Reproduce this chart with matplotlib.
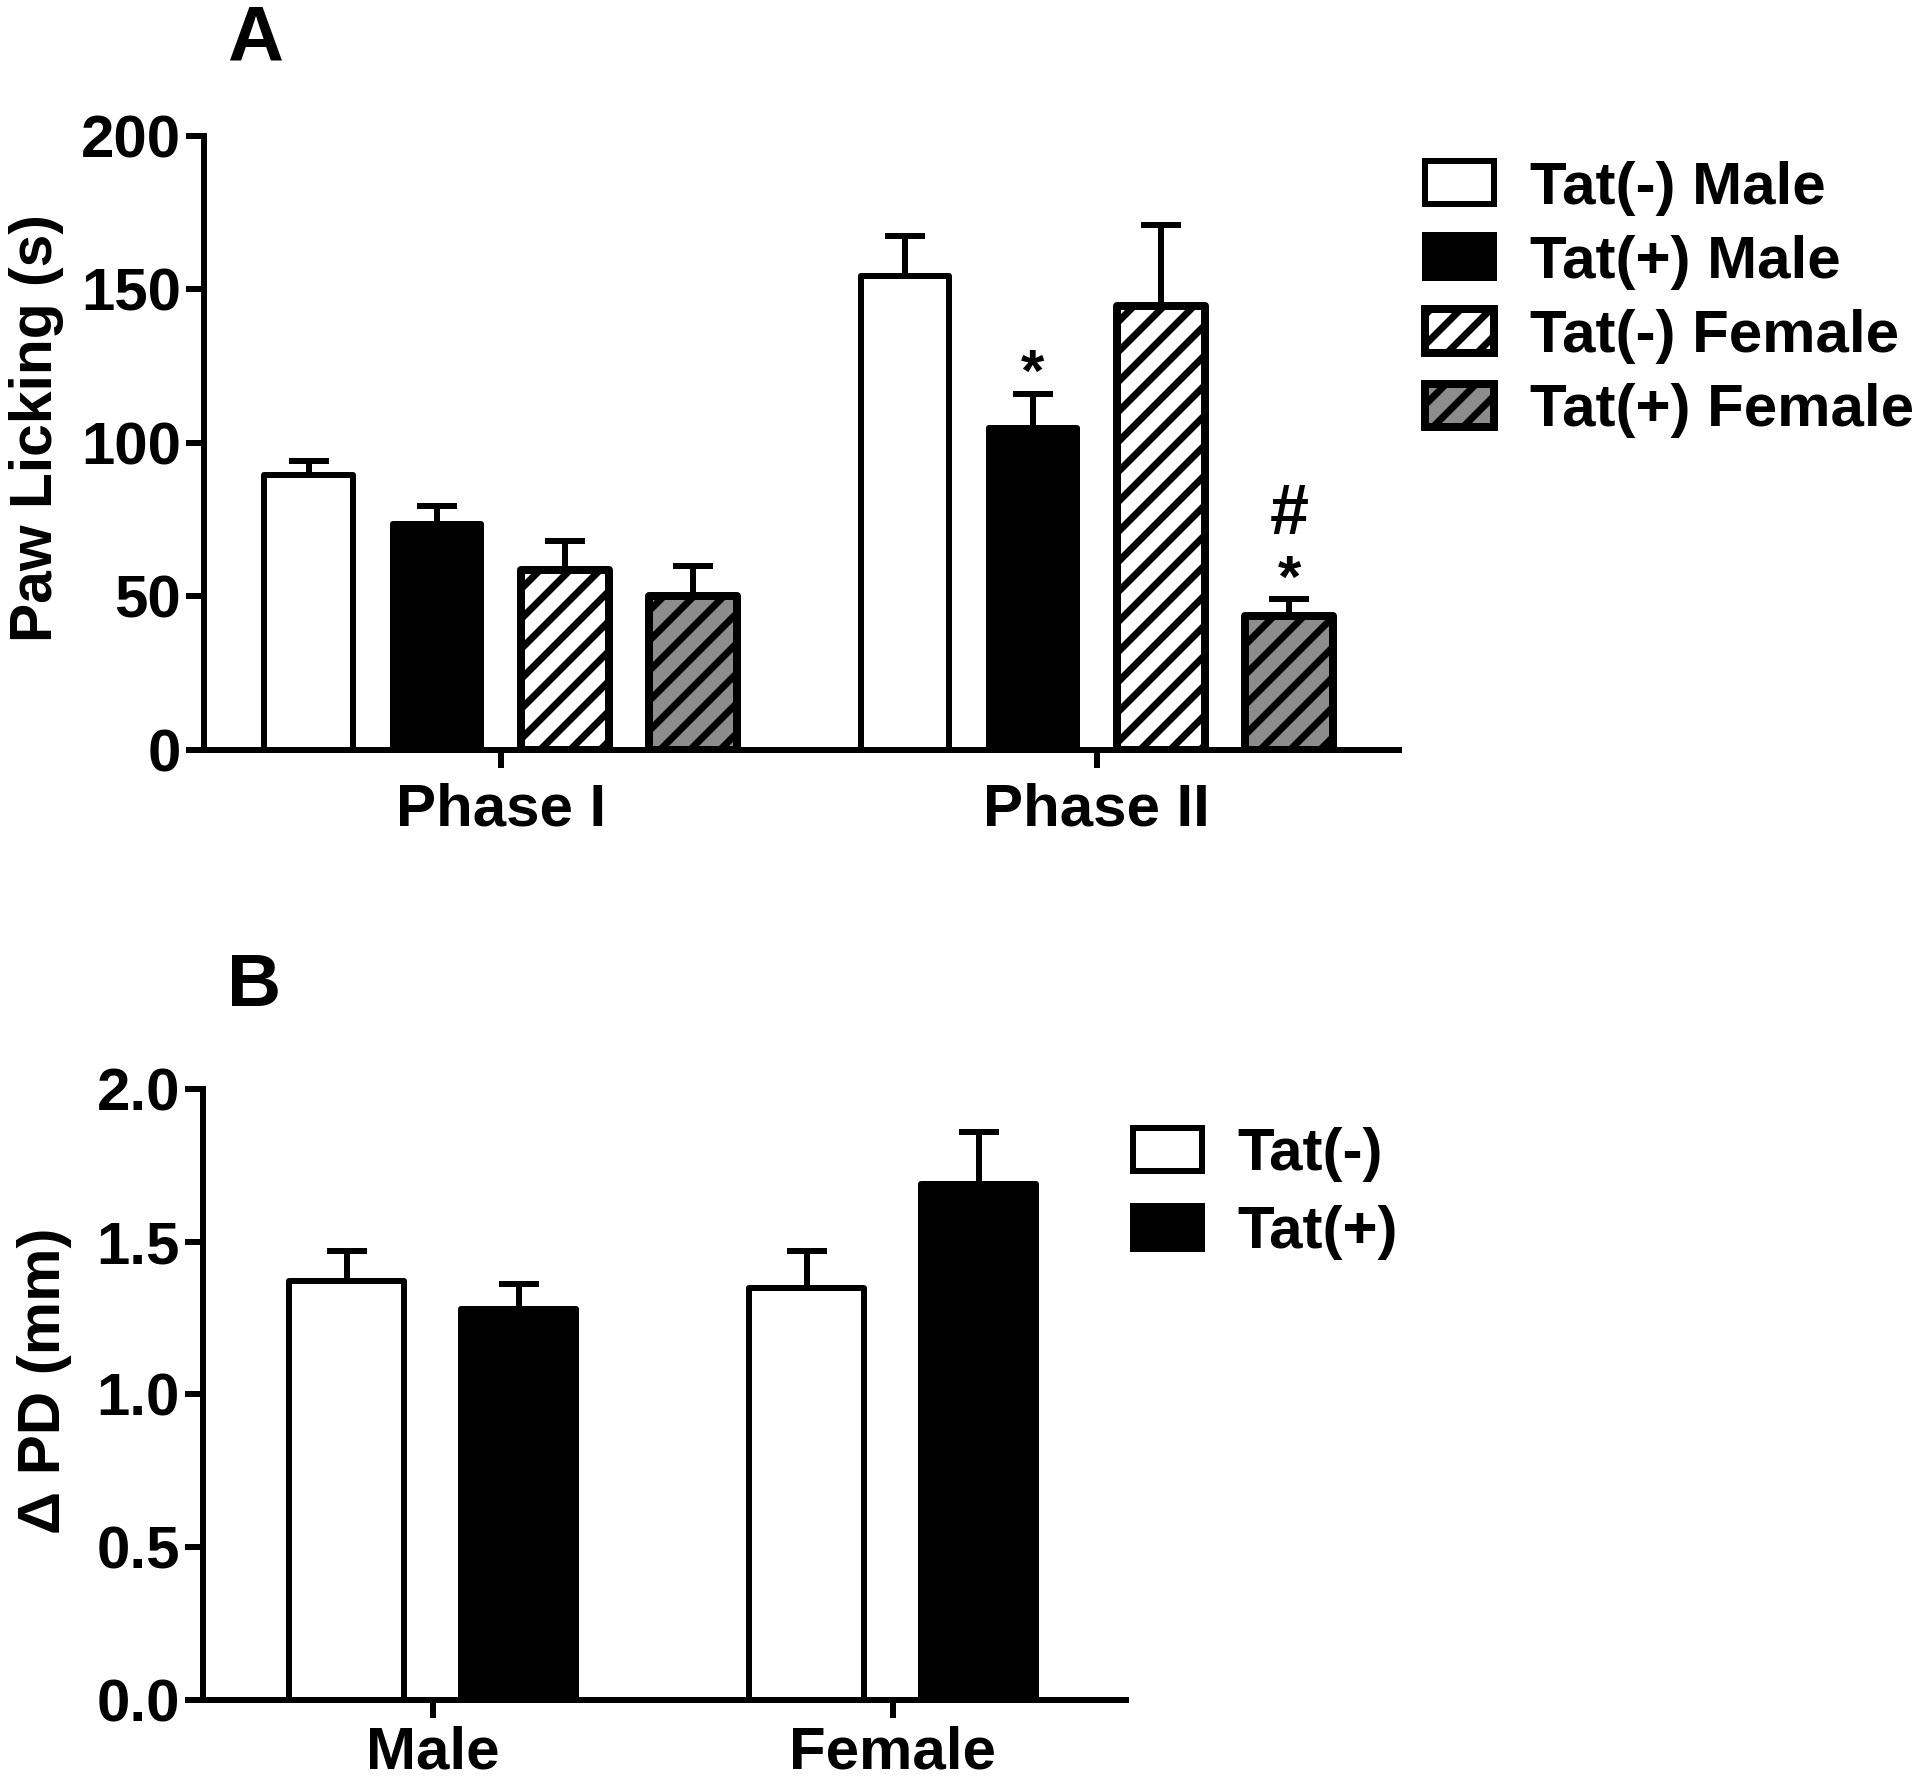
import matplotlib
matplotlib.use("Agg")
import matplotlib.pyplot as plt
import numpy as np

# panel A: paw licking (s)
phases = ["Phase I", "Phase II"]
groups_a = ["Tat(-) Male", "Tat(+) Male", "Tat(-) Female", "Tat(+) Female"]
lick_mean = {
    "Tat(-) Male": [89.5, 154.5],
    "Tat(+) Male": [73.5, 105.0],
    "Tat(-) Female": [58.5, 144.5],
    "Tat(+) Female": [50.0, 43.5],
}
lick_sem = {
    "Tat(-) Male": [4.7, 13.0],
    "Tat(+) Male": [6.0, 11.0],
    "Tat(-) Female": [9.5, 26.5],
    "Tat(+) Female": [10.0, 5.7],
}
lick_ticks = [0, 50, 100, 150, 200]

# panel B: delta paw diameter (mm)
sexes = ["Male", "Female"]
groups_b = ["Tat(-)", "Tat(+)"]
pd_mean = {"Tat(-)": [1.37, 1.35], "Tat(+)": [1.28, 1.69]}
pd_sem = {"Tat(-)": [0.10, 0.12], "Tat(+)": [0.08, 0.17]}
pd_ticks = [0.0, 0.5, 1.0, 1.5, 2.0]

DPI = 180
plt.rcParams["font.family"] = ["Liberation Sans", "DejaVu Sans"]
plt.rcParams["font.weight"] = "bold"
plt.rcParams["hatch.linewidth"] = 2.8

FS = 24
LW = 2.4

styles_a = {
    "Tat(-) Male": dict(facecolor="white", hatch=None, lw=LW),
    "Tat(+) Male": dict(facecolor="black", hatch=None, lw=LW),
    "Tat(-) Female": dict(facecolor="white", hatch="//", lw=3.2),
    "Tat(+) Female": dict(facecolor="#8c8c8c", hatch="//", lw=3.2),
}
styles_b = {
    "Tat(-)": dict(facecolor="white", hatch=None, lw=LW),
    "Tat(+)": dict(facecolor="black", hatch=None, lw=LW),
}


def style_axis(ax, ticks, fmt, xpad):
    for s in ["top", "right"]:
        ax.spines[s].set_visible(False)
    for s in ["left", "bottom"]:
        ax.spines[s].set_linewidth(LW)
    ax.tick_params(axis="both", direction="out", length=7.2, width=LW, labelsize=FS)
    ax.tick_params(axis="y", pad=2)
    ax.tick_params(axis="x", pad=xpad)
    ax.set_yticks(ticks)
    ax.set_yticklabels([fmt.format(t) for t in ticks], fontweight="bold")
    ax.set_ylim(ticks[0], ticks[-1])


def draw_bars(ax, cats, groups, means, sems, styles, offset, width):
    xc = np.arange(len(cats))
    n = len(groups)
    for i, g in enumerate(groups):
        x = xc + (i - (n - 1) / 2) * offset
        st = styles[g]
        ax.errorbar(x, means[g], yerr=[np.zeros(len(cats)), sems[g]], fmt="none",
                    ecolor="black", elinewidth=LW, capsize=8.2, capthick=LW, zorder=1)
        ax.bar(x, means[g], width=width, facecolor=st["facecolor"], edgecolor="black",
               hatch=st["hatch"], linewidth=st["lw"], label=g, zorder=2,
               joinstyle="round")
    ax.set_xticks(xc)
    ax.set_xticklabels(cats, fontsize=FS, fontweight="bold")


fig = plt.figure(figsize=(1920 / DPI, 1784 / DPI), dpi=DPI)

# ---- panel A
axA = fig.add_axes([0.10625, 0.5796, 0.6224, 0.3442])
draw_bars(axA, phases, groups_a, lick_mean, lick_sem, styles_a, 0.215, 0.148)
axA.set_xlim(-0.498, 1.507)
style_axis(axA, lick_ticks, "{:.0f}", 6)
axA.set_ylabel("Paw Licking (s)", fontsize=23.5, fontweight="bold")
axA.yaxis.set_label_coords(-0.117, 0.524)

# significance marks, Phase II
x_tm = 1 + (1 - 1.5) * 0.215
x_tf = 1 + (3 - 1.5) * 0.215
top_tm = lick_mean["Tat(+) Male"][1] + lick_sem["Tat(+) Male"][1]
top_tf = lick_mean["Tat(+) Female"][1] + lick_sem["Tat(+) Female"][1]
axA.annotate("*", (x_tm, top_tm), xytext=(0, 1), textcoords="offset points",
             ha="center", va="baseline", fontsize=FS, fontweight="bold")
axA.annotate("*", (x_tf, top_tf), xytext=(0, 1), textcoords="offset points",
             ha="center", va="baseline", fontsize=FS, fontweight="bold")
axA.annotate("#", (x_tf, top_tf), xytext=(0, 26), textcoords="offset points",
             ha="center", va="baseline", fontsize=28, fontweight="bold")

legA = axA.legend(loc="upper left", bbox_to_anchor=(0.742, 0.910),
                  bbox_transform=fig.transFigure, frameon=False, fontsize=FS,
                  handlelength=1.15, handleheight=0.73, handletextpad=0.6,
                  labelspacing=0.32, borderpad=0, borderaxespad=0)
for t in legA.get_texts():
    t.set_fontweight("bold")

fig.text(0.1328, 1 - 61 / 1784, "A", fontsize=31, fontweight="bold",
         ha="center", va="baseline")

# ---- panel B
axB = fig.add_axes([0.1057, 0.0471, 0.4807, 0.3425])
draw_bars(axB, sexes, groups_b, pd_mean, pd_sem, styles_b, 0.374, 0.25)
axB.set_xlim(-0.5, 1.507)
style_axis(axB, pd_ticks, "{:.1f}", 3)
axB.set_ylabel("\u0394 PD (mm)", fontsize=FS, fontweight="bold")
axB.yaxis.set_label_coords(-0.142, 0.522)

legB = axB.legend(loc="upper left", bbox_to_anchor=(0.590, 0.368),
                  bbox_transform=fig.transFigure, frameon=False, fontsize=FS,
                  handlelength=1.15, handleheight=0.73, handletextpad=0.6,
                  labelspacing=0.38, borderpad=0, borderaxespad=0)
for t in legB.get_texts():
    t.set_fontweight("bold")

fig.text(0.1323, 1 - 1006 / 1784, "B", fontsize=30, fontweight="bold",
         ha="center", va="baseline")

fig.savefig("out.png", dpi=DPI, facecolor="white")
